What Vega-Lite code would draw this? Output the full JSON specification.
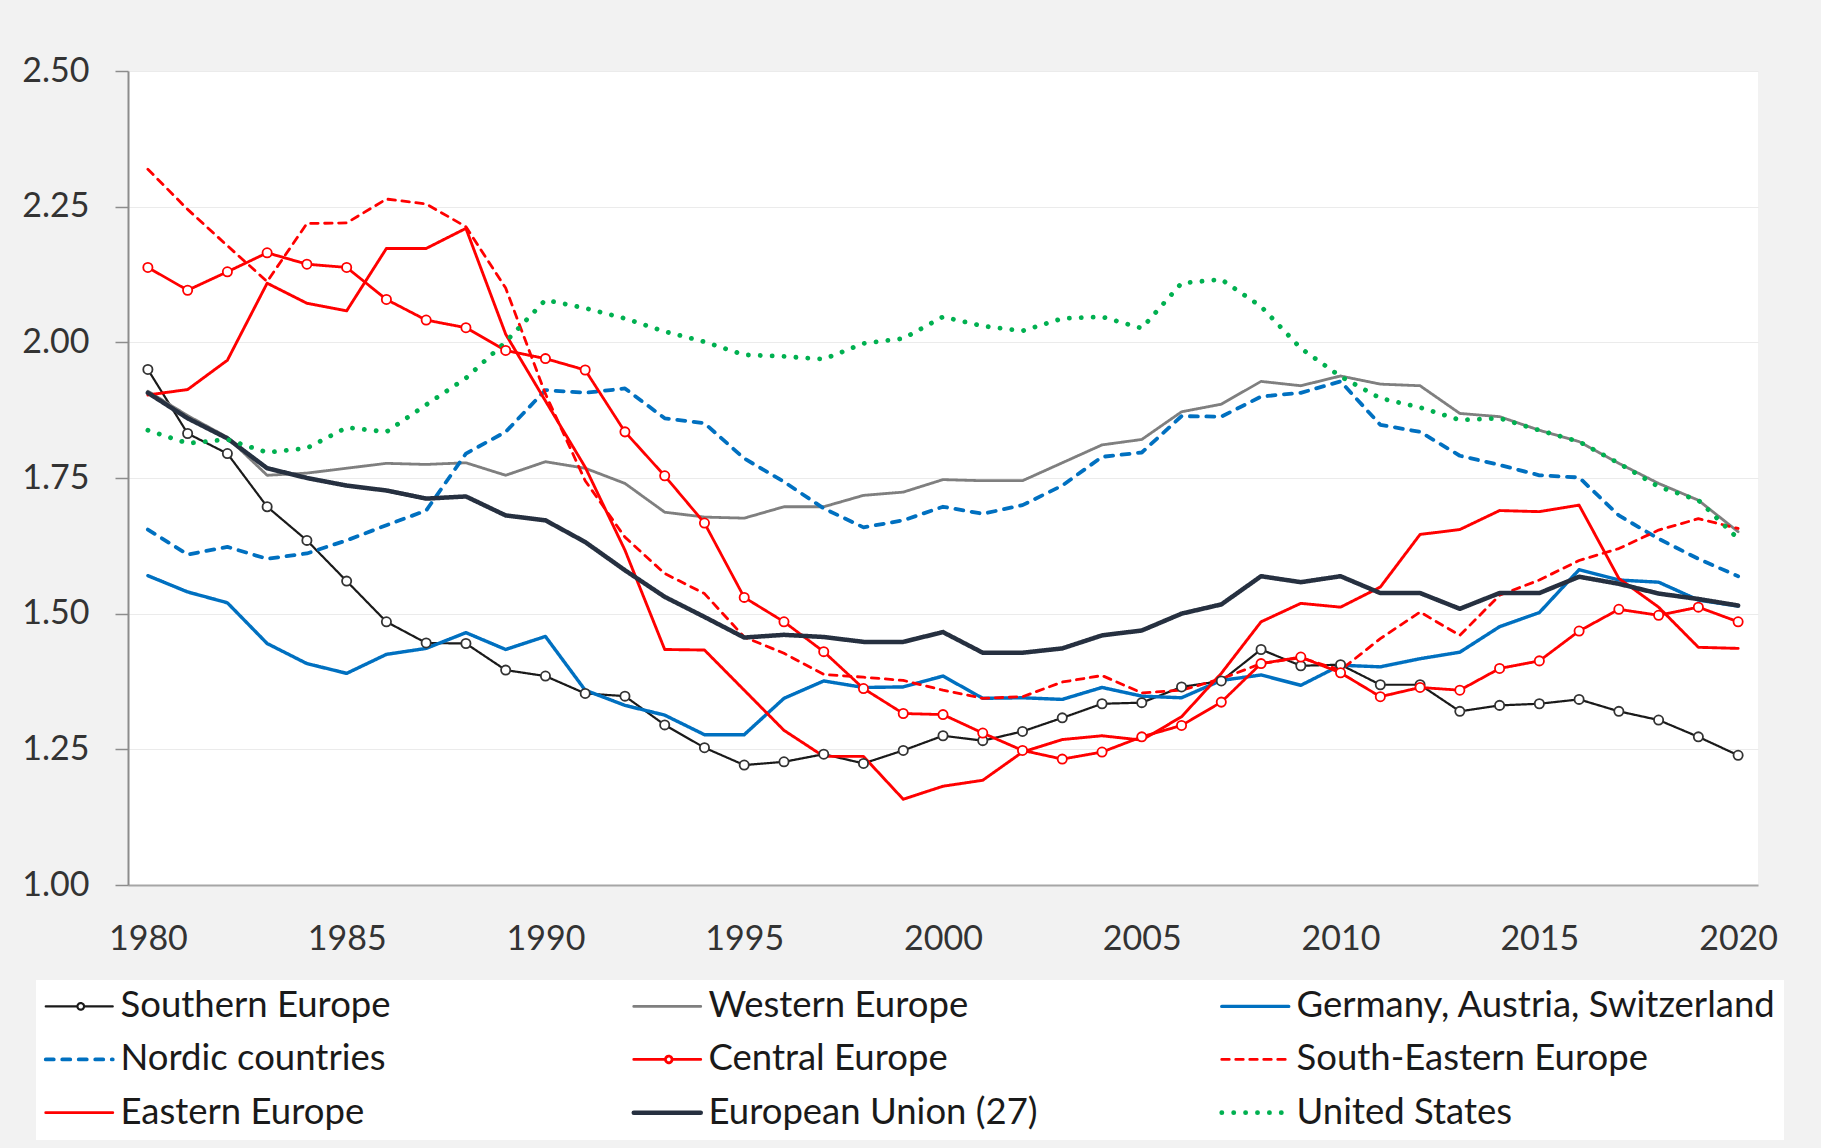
{
  "$schema": "https://vega.github.io/schema/vega-lite/v6.json",
  "autosize": {"type": "none"},
  "width": 1630,
  "height": 814,
  "padding": {"left": 128, "top": 71, "right": 63, "bottom": 263},
  "background": "#f2f2f2",
  "config": {
    "font": "Lato",
    "view": {"fill": "white", "stroke": null}
  },
  "data": {
    "values": [
      {"year":1980,"Southern Europe":1.950,"Western Europe":1.910,"Germany, Austria, Switzerland":1.570,"Nordic countries":1.655,"Central Europe":2.138,"South-Eastern Europe":2.319,"Eastern Europe":1.903,"European Union (27)":1.907,"United States":1.838},
      {"year":1981,"Southern Europe":1.832,"Western Europe":1.865,"Germany, Austria, Switzerland":1.540,"Nordic countries":1.609,"Central Europe":2.096,"South-Eastern Europe":2.245,"Eastern Europe":1.913,"European Union (27)":1.860,"United States":1.814},
      {"year":1982,"Southern Europe":1.795,"Western Europe":1.825,"Germany, Austria, Switzerland":1.520,"Nordic countries":1.623,"Central Europe":2.130,"South-Eastern Europe":2.178,"Eastern Europe":1.967,"European Union (27)":1.823,"United States":1.821},
      {"year":1983,"Southern Europe":1.697,"Western Europe":1.755,"Germany, Austria, Switzerland":1.445,"Nordic countries":1.601,"Central Europe":2.165,"South-Eastern Europe":2.112,"Eastern Europe":2.109,"European Union (27)":1.768,"United States":1.797},
      {"year":1984,"Southern Europe":1.635,"Western Europe":1.759,"Germany, Austria, Switzerland":1.408,"Nordic countries":1.611,"Central Europe":2.144,"South-Eastern Europe":2.219,"Eastern Europe":2.072,"European Union (27)":1.750,"United States":1.805},
      {"year":1985,"Southern Europe":1.560,"Western Europe":1.768,"Germany, Austria, Switzerland":1.390,"Nordic countries":1.635,"Central Europe":2.138,"South-Eastern Europe":2.220,"Eastern Europe":2.058,"European Union (27)":1.736,"United States":1.843},
      {"year":1986,"Southern Europe":1.485,"Western Europe":1.777,"Germany, Austria, Switzerland":1.425,"Nordic countries":1.663,"Central Europe":2.079,"South-Eastern Europe":2.264,"Eastern Europe":2.173,"European Union (27)":1.727,"United States":1.835},
      {"year":1987,"Southern Europe":1.446,"Western Europe":1.775,"Germany, Austria, Switzerland":1.436,"Nordic countries":1.690,"Central Europe":2.041,"South-Eastern Europe":2.255,"Eastern Europe":2.173,"European Union (27)":1.712,"United States":1.885},
      {"year":1988,"Southern Europe":1.445,"Western Europe":1.778,"Germany, Austria, Switzerland":1.465,"Nordic countries":1.795,"Central Europe":2.027,"South-Eastern Europe":2.213,"Eastern Europe":2.210,"European Union (27)":1.716,"United States":1.934},
      {"year":1989,"Southern Europe":1.396,"Western Europe":1.755,"Germany, Austria, Switzerland":1.434,"Nordic countries":1.835,"Central Europe":1.985,"South-Eastern Europe":2.100,"Eastern Europe":2.015,"European Union (27)":1.681,"United States":2.001},
      {"year":1990,"Southern Europe":1.385,"Western Europe":1.780,"Germany, Austria, Switzerland":1.458,"Nordic countries":1.912,"Central Europe":1.970,"South-Eastern Europe":1.905,"Eastern Europe":1.892,"European Union (27)":1.672,"United States":2.078},
      {"year":1991,"Southern Europe":1.353,"Western Europe":1.768,"Germany, Austria, Switzerland":1.359,"Nordic countries":1.907,"Central Europe":1.949,"South-Eastern Europe":1.745,"Eastern Europe":1.770,"European Union (27)":1.632,"United States":2.063},
      {"year":1992,"Southern Europe":1.348,"Western Europe":1.740,"Germany, Austria, Switzerland":1.331,"Nordic countries":1.915,"Central Europe":1.835,"South-Eastern Europe":1.641,"Eastern Europe":1.617,"European Union (27)":1.580,"United States":2.044},
      {"year":1993,"Southern Europe":1.295,"Western Europe":1.687,"Germany, Austria, Switzerland":1.313,"Nordic countries":1.860,"Central Europe":1.754,"South-Eastern Europe":1.574,"Eastern Europe":1.434,"European Union (27)":1.531,"United States":2.020},
      {"year":1994,"Southern Europe":1.253,"Western Europe":1.678,"Germany, Austria, Switzerland":1.277,"Nordic countries":1.851,"Central Europe":1.667,"South-Eastern Europe":1.537,"Eastern Europe":1.433,"European Union (27)":1.494,"United States":2.001},
      {"year":1995,"Southern Europe":1.221,"Western Europe":1.676,"Germany, Austria, Switzerland":1.277,"Nordic countries":1.786,"Central Europe":1.530,"South-Eastern Europe":1.457,"Eastern Europe":1.359,"European Union (27)":1.456,"United States":1.977},
      {"year":1996,"Southern Europe":1.227,"Western Europe":1.697,"Germany, Austria, Switzerland":1.344,"Nordic countries":1.743,"Central Europe":1.485,"South-Eastern Europe":1.427,"Eastern Europe":1.285,"European Union (27)":1.461,"United States":1.974},
      {"year":1997,"Southern Europe":1.241,"Western Europe":1.697,"Germany, Austria, Switzerland":1.376,"Nordic countries":1.694,"Central Europe":1.430,"South-Eastern Europe":1.388,"Eastern Europe":1.237,"European Union (27)":1.457,"United States":1.969},
      {"year":1998,"Southern Europe":1.224,"Western Europe":1.718,"Germany, Austria, Switzerland":1.364,"Nordic countries":1.659,"Central Europe":1.362,"South-Eastern Europe":1.383,"Eastern Europe":1.237,"European Union (27)":1.448,"United States":1.998},
      {"year":1999,"Southern Europe":1.248,"Western Europe":1.724,"Germany, Austria, Switzerland":1.365,"Nordic countries":1.672,"Central Europe":1.316,"South-Eastern Europe":1.377,"Eastern Europe":1.158,"European Union (27)":1.448,"United States":2.007},
      {"year":2000,"Southern Europe":1.275,"Western Europe":1.747,"Germany, Austria, Switzerland":1.385,"Nordic countries":1.697,"Central Europe":1.314,"South-Eastern Europe":1.359,"Eastern Europe":1.182,"European Union (27)":1.466,"United States":2.047},
      {"year":2001,"Southern Europe":1.266,"Western Europe":1.745,"Germany, Austria, Switzerland":1.344,"Nordic countries":1.684,"Central Europe":1.280,"South-Eastern Europe":1.344,"Eastern Europe":1.193,"European Union (27)":1.428,"United States":2.030},
      {"year":2002,"Southern Europe":1.283,"Western Europe":1.745,"Germany, Austria, Switzerland":1.345,"Nordic countries":1.700,"Central Europe":1.248,"South-Eastern Europe":1.347,"Eastern Europe":1.245,"European Union (27)":1.428,"United States":2.021},
      {"year":2003,"Southern Europe":1.308,"Western Europe":1.778,"Germany, Austria, Switzerland":1.342,"Nordic countries":1.736,"Central Europe":1.232,"South-Eastern Europe":1.374,"Eastern Europe":1.268,"European Union (27)":1.436,"United States":2.044},
      {"year":2004,"Southern Europe":1.334,"Western Europe":1.811,"Germany, Austria, Switzerland":1.364,"Nordic countries":1.789,"Central Europe":1.245,"South-Eastern Europe":1.386,"Eastern Europe":1.275,"European Union (27)":1.460,"United States":2.047},
      {"year":2005,"Southern Europe":1.336,"Western Europe":1.821,"Germany, Austria, Switzerland":1.348,"Nordic countries":1.797,"Central Europe":1.273,"South-Eastern Europe":1.354,"Eastern Europe":1.267,"European Union (27)":1.469,"United States":2.026},
      {"year":2006,"Southern Europe":1.365,"Western Europe":1.872,"Germany, Austria, Switzerland":1.345,"Nordic countries":1.864,"Central Europe":1.294,"South-Eastern Europe":1.359,"Eastern Europe":1.310,"European Union (27)":1.500,"United States":2.109},
      {"year":2007,"Southern Europe":1.376,"Western Europe":1.886,"Germany, Austria, Switzerland":1.377,"Nordic countries":1.863,"Central Europe":1.337,"South-Eastern Europe":1.380,"Eastern Europe":1.390,"European Union (27)":1.517,"United States":2.116},
      {"year":2008,"Southern Europe":1.434,"Western Europe":1.928,"Germany, Austria, Switzerland":1.387,"Nordic countries":1.900,"Central Europe":1.408,"South-Eastern Europe":1.408,"Eastern Europe":1.485,"European Union (27)":1.569,"United States":2.066},
      {"year":2009,"Southern Europe":1.404,"Western Europe":1.920,"Germany, Austria, Switzerland":1.368,"Nordic countries":1.907,"Central Europe":1.420,"South-Eastern Europe":1.419,"Eastern Europe":1.519,"European Union (27)":1.558,"United States":1.989},
      {"year":2010,"Southern Europe":1.406,"Western Europe":1.938,"Germany, Austria, Switzerland":1.405,"Nordic countries":1.928,"Central Europe":1.391,"South-Eastern Europe":1.396,"Eastern Europe":1.512,"European Union (27)":1.569,"United States":1.937},
      {"year":2011,"Southern Europe":1.369,"Western Europe":1.923,"Germany, Austria, Switzerland":1.402,"Nordic countries":1.848,"Central Europe":1.347,"South-Eastern Europe":1.454,"Eastern Europe":1.549,"European Union (27)":1.538,"United States":1.897},
      {"year":2012,"Southern Europe":1.369,"Western Europe":1.920,"Germany, Austria, Switzerland":1.417,"Nordic countries":1.835,"Central Europe":1.364,"South-Eastern Europe":1.503,"Eastern Europe":1.646,"European Union (27)":1.538,"United States":1.880},
      {"year":2013,"Southern Europe":1.320,"Western Europe":1.869,"Germany, Austria, Switzerland":1.429,"Nordic countries":1.791,"Central Europe":1.359,"South-Eastern Europe":1.460,"Eastern Europe":1.655,"European Union (27)":1.509,"United States":1.857},
      {"year":2014,"Southern Europe":1.331,"Western Europe":1.863,"Germany, Austria, Switzerland":1.476,"Nordic countries":1.774,"Central Europe":1.399,"South-Eastern Europe":1.534,"Eastern Europe":1.690,"European Union (27)":1.538,"United States":1.860},
      {"year":2015,"Southern Europe":1.334,"Western Europe":1.838,"Germany, Austria, Switzerland":1.502,"Nordic countries":1.755,"Central Europe":1.413,"South-Eastern Europe":1.562,"Eastern Europe":1.688,"European Union (27)":1.538,"United States":1.838},
      {"year":2016,"Southern Europe":1.342,"Western Europe":1.817,"Germany, Austria, Switzerland":1.581,"Nordic countries":1.751,"Central Europe":1.468,"South-Eastern Europe":1.598,"Eastern Europe":1.700,"European Union (27)":1.568,"United States":1.817},
      {"year":2017,"Southern Europe":1.320,"Western Europe":1.777,"Germany, Austria, Switzerland":1.562,"Nordic countries":1.681,"Central Europe":1.508,"South-Eastern Europe":1.620,"Eastern Europe":1.565,"European Union (27)":1.555,"United States":1.777},
      {"year":2018,"Southern Europe":1.304,"Western Europe":1.740,"Germany, Austria, Switzerland":1.558,"Nordic countries":1.638,"Central Europe":1.497,"South-Eastern Europe":1.654,"Eastern Europe":1.512,"European Union (27)":1.537,"United States":1.734},
      {"year":2019,"Southern Europe":1.273,"Western Europe":1.709,"Germany, Austria, Switzerland":1.525,"Nordic countries":1.601,"Central Europe":1.512,"South-Eastern Europe":1.675,"Eastern Europe":1.438,"European Union (27)":1.527,"United States":1.709},
      {"year":2020,"Southern Europe":1.239,"Western Europe":1.651,"Germany, Austria, Switzerland":1.514,"Nordic countries":1.569,"Central Europe":1.485,"South-Eastern Europe":1.657,"Eastern Europe":1.436,"European Union (27)":1.515,"United States":1.638}
    ]
  },
  "transform": [
    {"fold": ["Southern Europe","Western Europe","Germany, Austria, Switzerland","Nordic countries","Central Europe","South-Eastern Europe","Eastern Europe","European Union (27)","United States"], "as": ["series","value"]}
  ],
  "layer": [
    {
      "mark": {"type": "line", "strokeCap": "round", "strokeJoin": "round"},
      "encoding": {
        "x": {
          "field": "year", "type": "quantitative",
          "scale": {"domain": [1979.5, 2020.5], "nice": false, "zero": false},
          "axis": {
            "title": null, "values": [1980,1985,1990,1995,2000,2005,2010,2015,2020], "format": "d",
            "labelFontSize": 34, "labelColor": "#333333", "labelPadding": 37, "labelFlush": false,
            "ticks": false, "tickSize": 0, "grid": false,
            "domainColor": "#a6a6a6", "domainWidth": 2
          }
        },
        "y": {
          "field": "value", "type": "quantitative",
          "scale": {"domain": [1, 2.5], "nice": false, "zero": false},
          "axis": {
            "title": null, "values": [1,1.25,1.5,1.75,2,2.25,2.5], "format": ".2f",
            "labelFontSize": 34, "labelColor": "#333333", "labelPadding": 26,
            "ticks": true, "tickSize": 13, "tickColor": "#8c8c8c", "tickWidth": 1.5,
            "grid": true, "gridColor": "#ebebeb", "gridWidth": 1,
            "domainColor": "#8c8c8c", "domainWidth": 2
          }
        },
        "color": {
          "field": "series", "type": "nominal",
          "scale": {
            "domain": ["Southern Europe","Western Europe","Germany, Austria, Switzerland","Nordic countries","Central Europe","South-Eastern Europe","Eastern Europe","European Union (27)","United States"],
            "range": ["#1a1a1a","#7f7f7f","#0070c0","#0070c0","#ff0000","#ff0000","#ff0000","#263040","#00b050"]
          },
          "legend": {
            "orient": "none", "legendX": -92, "legendY": 909,
            "direction": "horizontal",
            "columns": 3, "gridAlign": "all", "title": null,
            "fillColor": "white", "padding": 8,
            "labelFont": "Lato", "labelFontSize": 36.5, "labelColor": "#1a1a1a", "labelLimit": 800,
            "labelOffset": 40, "symbolSize": 900, "symbolOffset": 0,
            "rowPadding": 16.2, "columnPadding": 24,
            "encode": {
              "symbols": {
                "update": {
                  "shape": {"signal": "indexof(['Southern Europe','Central Europe'], datum.value) >= 0 ? 'M-1.1,0L1.013,0M1.453,0L3.367,0M1.453,0A0.22,0.22,0,1,1,1.013,0A0.22,0.22,0,1,1,1.453,0' : 'M-1.1,0L3.367,0'"},
                  "fill": {"value": "white"},
                  "strokeCap": {"value": "round"},
                  "opacity": {"value": 1}
                }
              }
            }
          }
        },
        "strokeDash": {
          "field": "series", "type": "nominal",
          "scale": {
            "domain": ["Southern Europe","Western Europe","Germany, Austria, Switzerland","Nordic countries","Central Europe","South-Eastern Europe","Eastern Europe","European Union (27)","United States"],
            "range": [[1,0],[1,0],[1,0],[8,8.5],[1,0],[7.5,6.5],[1,0],[1,0],[0.1,11.8]]
          }
        },
        "strokeWidth": {
          "field": "series", "type": "nominal",
          "scale": {
            "type": "ordinal",
            "domain": ["Southern Europe","Western Europe","Germany, Austria, Switzerland","Nordic countries","Central Europe","South-Eastern Europe","Eastern Europe","European Union (27)","United States"],
            "range": [2.2, 2.8, 3.4, 3.8, 2.8, 2.8, 2.9, 4.5, 4.8]
          }
        }
      }
    },
    {
      "transform": [{"filter": {"field": "series", "oneOf": ["Southern Europe", "Central Europe"]}}],
      "mark": {"type": "point", "shape": "circle", "filled": true, "fill": "white", "opacity": 1, "size": 85, "strokeWidth": 1.8},
      "encoding": {
        "x": {"field": "year", "type": "quantitative"},
        "y": {"field": "value", "type": "quantitative"},
        "stroke": {
          "field": "series", "type": "nominal",
          "scale": {"domain": ["Southern Europe", "Central Europe"], "range": ["#333333", "#ff0000"]},
          "legend": null
        }
      }
    }
  ]
}
